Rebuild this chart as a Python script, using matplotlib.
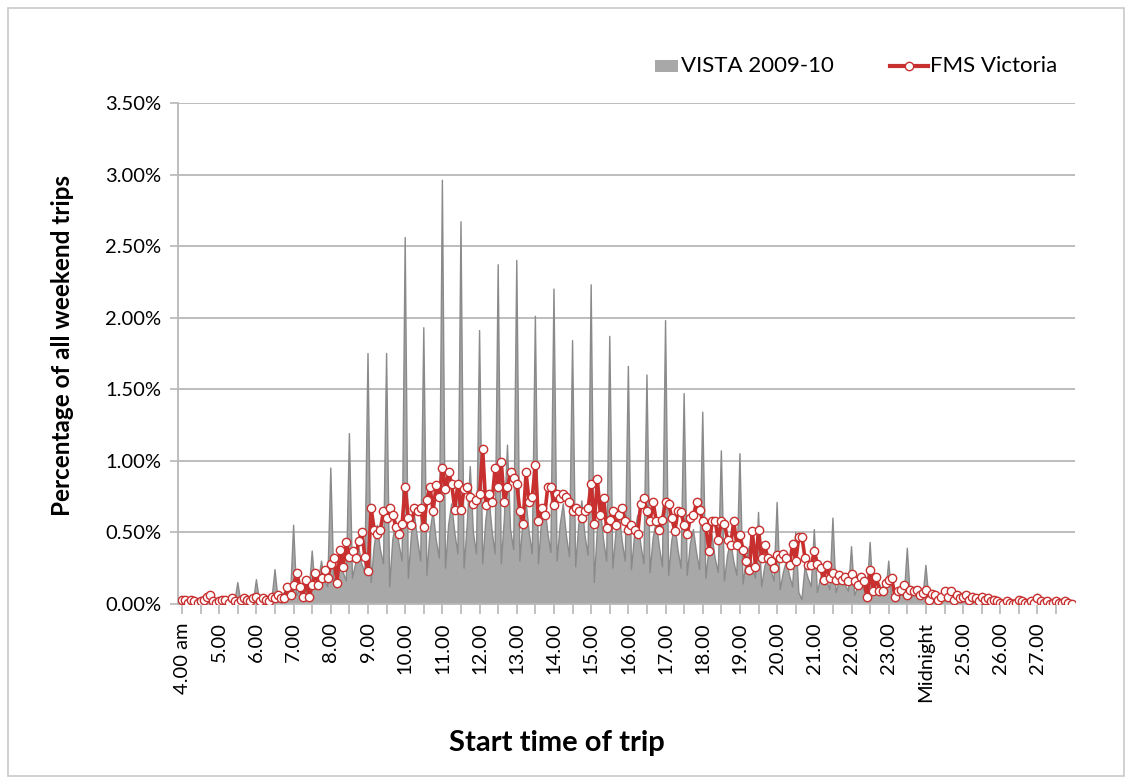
import matplotlib
matplotlib.use("Agg")
import matplotlib.pyplot as plt
from matplotlib.patches import Rectangle
from matplotlib.lines import Line2D
from matplotlib.ticker import FuncFormatter, FixedLocator

plt.rcParams['font.family'] = ['Lato', 'DejaVu Sans']

# Hour labels for the category axis (one label per hour, 4 am to 27.00)
hour_labels = ["4.00 am", "5.00", "6.00", "7.00", "8.00", "9.00", "10.00", "11.00",
               "12.00", "13.00", "14.00", "15.00", "16.00", "17.00", "18.00", "19.00",
               "20.00", "21.00", "22.00", "23.00", "Midnight", "25.00", "26.00", "27.00"]

# VISTA 2009-10: share of weekend trips (%) per 5-minute start slot, one row per hour
vista = [
    0.00, 0.00, 0.01, 0.00, 0.00, 0.00, 0.01, 0.00, 0.00, 0.00, 0.00, 0.00,  # 4
    0.01, 0.00, 0.01, 0.01, 0.00, 0.01, 0.15, 0.01, 0.01, 0.02, 0.01, 0.01,  # 5
    0.17, 0.02, 0.03, 0.04, 0.02, 0.03, 0.24, 0.03, 0.05, 0.08, 0.06, 0.05,  # 6
    0.55, 0.06, 0.10, 0.14, 0.09, 0.08, 0.37, 0.10, 0.15, 0.30, 0.16, 0.12,  # 7
    0.95, 0.14, 0.22, 0.30, 0.22, 0.16, 1.19, 0.18, 0.28, 0.40, 0.28, 0.22,  # 8
    1.75, 0.15, 0.40, 0.55, 0.38, 0.28, 1.75, 0.12, 0.45, 0.58, 0.42, 0.30,  # 9
    2.56, 0.18, 0.48, 0.62, 0.45, 0.30, 1.93, 0.20, 0.50, 0.65, 0.45, 0.32,  # 10
    2.96, 0.25, 0.55, 0.70, 0.50, 0.35, 2.67, 0.25, 0.55, 0.96, 0.50, 0.35,  # 11
    1.91, 0.28, 0.58, 0.75, 0.52, 0.35, 2.37, 0.28, 0.60, 1.11, 0.52, 0.38,  # 12
    2.40, 0.30, 0.58, 0.72, 0.50, 0.35, 2.01, 0.28, 0.58, 0.70, 0.50, 0.36,  # 13
    2.20, 0.30, 0.55, 0.70, 0.48, 0.33, 1.84, 0.26, 0.55, 0.72, 0.48, 0.34,  # 14
    2.23, 0.15, 0.52, 0.66, 0.45, 0.30, 1.87, 0.25, 0.50, 0.64, 0.44, 0.30,  # 15
    1.66, 0.24, 0.48, 0.62, 0.42, 0.28, 1.60, 0.22, 0.46, 0.58, 0.40, 0.26,  # 16
    1.98, 0.20, 0.44, 0.56, 0.38, 0.25, 1.47, 0.20, 0.42, 0.52, 0.36, 0.24,  # 17
    1.34, 0.18, 0.38, 0.48, 0.32, 0.22, 1.07, 0.16, 0.34, 0.44, 0.30, 0.20,  # 18
    1.05, 0.14, 0.30, 0.40, 0.26, 0.18, 0.64, 0.12, 0.26, 0.34, 0.24, 0.16,  # 19
    0.71, 0.10, 0.22, 0.30, 0.20, 0.12, 0.50, 0.08, 0.03, 0.26, 0.18, 0.12,  # 20
    0.52, 0.08, 0.18, 0.24, 0.16, 0.10, 0.60, 0.08, 0.15, 0.20, 0.13, 0.09,  # 21
    0.40, 0.06, 0.12, 0.16, 0.10, 0.07, 0.43, 0.06, 0.10, 0.14, 0.09, 0.06,  # 22
    0.30, 0.04, 0.08, 0.10, 0.07, 0.05, 0.39, 0.04, 0.06, 0.08, 0.05, 0.04,  # 23
    0.27, 0.03, 0.04, 0.06, 0.04, 0.03, 0.10, 0.02, 0.03, 0.05, 0.03, 0.02,  # 24
    0.06, 0.01, 0.02, 0.03, 0.02, 0.01, 0.04, 0.01, 0.02, 0.02, 0.01, 0.01,  # 25
    0.03, 0.01, 0.01, 0.01, 0.01, 0.00, 0.02, 0.00, 0.01, 0.01, 0.00, 0.00,  # 26
    0.07, 0.00, 0.01, 0.01, 0.00, 0.00, 0.02, 0.00, 0.00, 0.01, 0.00, 0.00,  # 27
]

# FMS Victoria: share of weekend trips (%) per 5-minute start slot, one row per hour
fms = [
    0.03, 0.03, 0.01, 0.03, 0.02, 0.01, 0.02, 0.03, 0.05, 0.06, 0.02, 0.01,  # 4
    0.02, 0.03, 0.03, 0.01, 0.04, 0.02, 0.01, 0.03, 0.04, 0.03, 0.02, 0.04,  # 5
    0.05, 0.02, 0.04, 0.03, 0.02, 0.05, 0.04, 0.06, 0.04, 0.04, 0.12, 0.06,  # 6
    0.13, 0.22, 0.12, 0.05, 0.17, 0.05, 0.13, 0.22, 0.13, 0.18, 0.24, 0.18,  # 7
    0.28, 0.32, 0.15, 0.38, 0.26, 0.43, 0.33, 0.37, 0.32, 0.44, 0.50, 0.33,  # 8
    0.23, 0.67, 0.52, 0.49, 0.52, 0.65, 0.60, 0.67, 0.62, 0.54, 0.49, 0.56,  # 9
    0.82, 0.60, 0.55, 0.67, 0.65, 0.67, 0.54, 0.73, 0.82, 0.65, 0.83, 0.75,  # 10
    0.95, 0.80, 0.92, 0.84, 0.66, 0.84, 0.66, 0.80, 0.82, 0.75, 0.70, 0.73,  # 11
    0.77, 1.08, 0.69, 0.77, 0.71, 0.95, 0.82, 0.99, 0.71, 0.82, 0.92, 0.88,  # 12
    0.84, 0.65, 0.56, 0.92, 0.71, 0.75, 0.97, 0.58, 0.67, 0.62, 0.82, 0.82,  # 13
    0.69, 0.77, 0.74, 0.77, 0.75, 0.71, 0.65, 0.67, 0.65, 0.60, 0.65, 0.67,  # 14
    0.84, 0.56, 0.87, 0.62, 0.74, 0.53, 0.59, 0.65, 0.55, 0.62, 0.67, 0.58,  # 15
    0.52, 0.55, 0.52, 0.49, 0.70, 0.74, 0.65, 0.58, 0.71, 0.58, 0.52, 0.59,  # 16
    0.71, 0.70, 0.60, 0.51, 0.65, 0.64, 0.55, 0.49, 0.60, 0.62, 0.71, 0.66,  # 17
    0.58, 0.54, 0.37, 0.58, 0.58, 0.45, 0.58, 0.56, 0.45, 0.41, 0.58, 0.41,  # 18
    0.48, 0.38, 0.30, 0.24, 0.51, 0.26, 0.52, 0.32, 0.41, 0.32, 0.30, 0.25,  # 19
    0.34, 0.32, 0.35, 0.32, 0.27, 0.42, 0.30, 0.47, 0.47, 0.32, 0.27, 0.27,  # 20
    0.37, 0.28, 0.25, 0.17, 0.27, 0.18, 0.22, 0.17, 0.20, 0.17, 0.19, 0.16,  # 21
    0.21, 0.16, 0.13, 0.19, 0.16, 0.05, 0.24, 0.09, 0.19, 0.09, 0.09, 0.15,  # 22
    0.17, 0.18, 0.05, 0.09, 0.10, 0.13, 0.06, 0.10, 0.09, 0.10, 0.06, 0.08,  # 23
    0.10, 0.03, 0.07, 0.06, 0.03, 0.05, 0.09, 0.05, 0.09, 0.03, 0.06, 0.04,  # 24
    0.05, 0.06, 0.03, 0.05, 0.04, 0.02, 0.05, 0.03, 0.04, 0.02, 0.03, 0.02,  # 25
    0.01, 0.00, 0.02, 0.01, 0.00, 0.01, 0.03, 0.02, 0.01, 0.00, 0.02, 0.01,  # 26
    0.04, 0.02, 0.01, 0.02, 0.00, 0.01, 0.02, 0.01, 0.01, 0.02, 0.01, 0.00,  # 27
]

slots = list(range(len(vista)))

W, H = 1132, 784
fig = plt.figure(figsize=(W / 100, H / 100), dpi=100)
fig.patch.set_facecolor("white")
# light outer frame around the whole chart
fig.add_artist(Rectangle((8 / W, 8 / H), 1116 / W, 768 / H, transform=fig.transFigure,
                         fill=False, edgecolor="#c9c9c9", linewidth=1.2))

ax = fig.add_axes([178 / W, 1 - 604 / H, (1075 - 178) / W, (604 - 103) / H])

grid_col = "#b8b8b8"
vista_col = "#a8a8a8"
fms_col = "#c8302f"

ax.set_ylim(0, 3.5)
ax.set_xlim(-1.3, len(vista) - 1 + 1.1)
ax.set_yticks([0, 0.5, 1.0, 1.5, 2.0, 2.5, 3.0, 3.5])
ax.yaxis.set_major_formatter(FuncFormatter(lambda v, p: f"{v:.2f}%"))
ax.yaxis.grid(True, color=grid_col, linewidth=1.3)
ax.set_axisbelow(True)

ax.fill_between(slots, vista, 0, facecolor=vista_col, edgecolor="none", zorder=2)
ax.plot(slots, vista, color="#8a8a8a", linewidth=1.0, zorder=2.5)
ax.plot(slots, fms, color=fms_col, linewidth=2.6, marker="o", markersize=6,
        markerfacecolor="white", markeredgecolor=fms_col, markeredgewidth=1.0, zorder=3)

# category axis: tick every half hour, label every hour
ax.xaxis.set_major_locator(FixedLocator(list(range(0, len(vista), 12))))
ax.set_xticklabels(hour_labels, rotation=90, fontsize=14.5)
ax.xaxis.set_minor_locator(FixedLocator(list(range(6, len(vista), 12))))
ax.tick_params(axis="x", which="both", direction="out", length=7, color=grid_col, width=1.2, pad=6)
ax.tick_params(axis="y", direction="out", length=6, color=grid_col, width=1.2, labelsize=14.5, pad=6)

for s in ("top", "right"):
    ax.spines[s].set_visible(False)
for s in ("left", "bottom"):
    ax.spines[s].set_color(grid_col)
    ax.spines[s].set_linewidth(1.3)

# axis titles
fig.text(63 / W, 1 - 345 / H, "Percentage of all weekend trips", rotation=90,
         ha="center", va="center", fontsize=17.5, fontweight="bold")
fig.text(557 / W, 1 - 743 / H, "Start time of trip", ha="center", va="center",
         fontsize=21, fontweight="bold")

# legend drawn at the top right
ly = 1 - 66 / H
fig.add_artist(Rectangle((655 / W, ly - 6 / H), 23 / W, 12 / H, transform=fig.transFigure,
                         facecolor=vista_col, edgecolor="none"))
fig.text(681 / W, ly, "VISTA 2009-10", ha="left", va="center", fontsize=16)
fig.add_artist(Line2D([890 / W, 928 / W], [ly, ly], transform=fig.transFigure,
                      color=fms_col, linewidth=3))
fig.add_artist(Line2D([909 / W], [ly], transform=fig.transFigure, marker="o", markersize=6,
                      markerfacecolor="white", markeredgecolor=fms_col, linestyle="none"))
fig.text(930 / W, ly, "FMS Victoria", ha="left", va="center", fontsize=16)

fig.savefig("out.png", dpi=100)
